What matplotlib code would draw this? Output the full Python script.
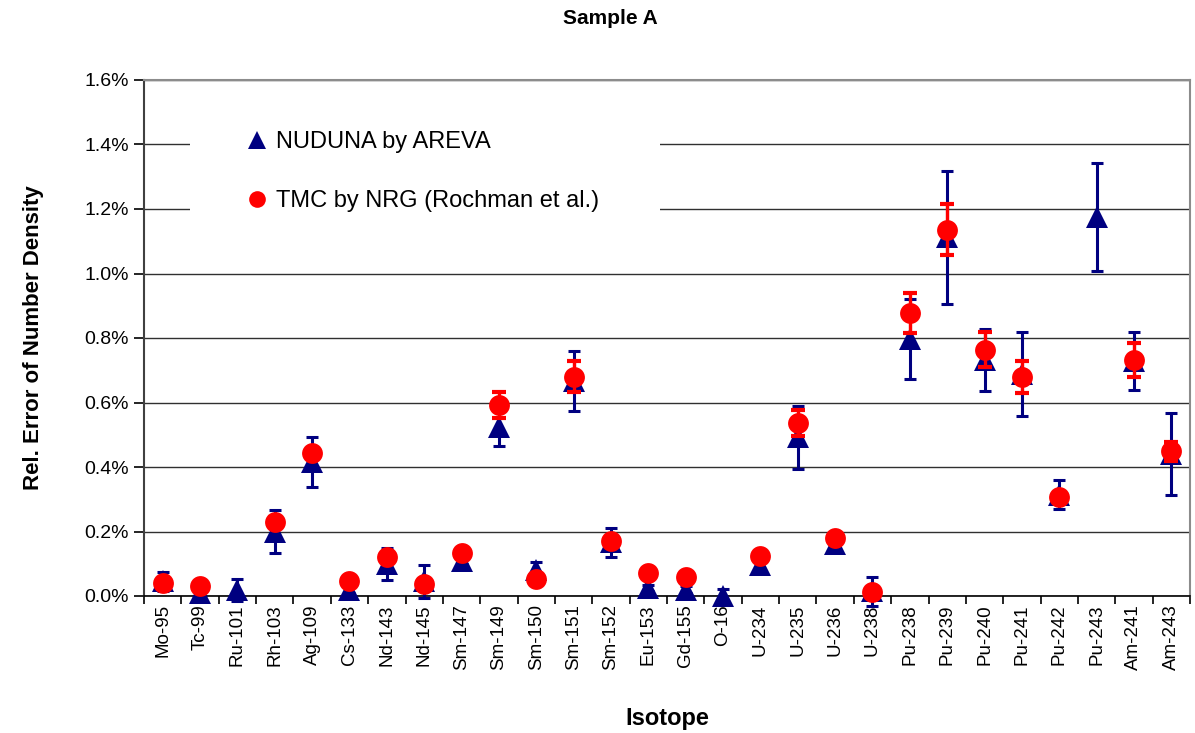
import numpy as np
import matplotlib
matplotlib.use("Agg")
import matplotlib.pyplot as plt
from matplotlib.lines import Line2D
from matplotlib.patches import Rectangle
from matplotlib.ticker import FuncFormatter, FixedLocator

plt.rcParams['font.family'] = ['Liberation Sans', 'DejaVu Sans']

isotopes = ['Mo-95', 'Tc-99', 'Ru-101', 'Rh-103', 'Ag-109', 'Cs-133', 'Nd-143', 'Nd-145',
	'Sm-147', 'Sm-149', 'Sm-150', 'Sm-151', 'Sm-152', 'Eu-153', 'Gd-155', 'O-16',
	'U-234', 'U-235', 'U-236', 'U-238', 'Pu-238', 'Pu-239', 'Pu-240', 'Pu-241',
	'Pu-242', 'Pu-243', 'Am-241', 'Am-243']

# relative error of number density, in %
nuduna = [0.045, 0.010, 0.018, 0.200, 0.415, 0.020, 0.100, 0.045,
	0.110, 0.525, 0.080, 0.668, 0.166, 0.025, 0.020, 0.000,
	0.095, 0.492, 0.160, 0.015, 0.798, 1.112, 0.732, 0.688,
	0.314, 1.176, 0.728, 0.440]
nuduna_err = [0.030, 0.010, 0.035, 0.067, 0.077, 0.010, 0.050, 0.052,
	0.010, 0.060, 0.025, 0.093, 0.044, 0.010, 0.010, 0.022,
	0.010, 0.097, 0.010, 0.045, 0.124, 0.206, 0.096, 0.130,
	0.045, 0.168, 0.090, 0.127]

tmc = [0.040, 0.032, np.nan, 0.230, 0.442, 0.047, 0.122, 0.036,
	0.132, 0.593, 0.053, 0.680, 0.170, 0.070, 0.058, np.nan,
	0.125, 0.537, 0.179, 0.011, 0.877, 1.136, 0.764, 0.680,
	0.306, np.nan, 0.732, 0.449]
tmc_err = [0.005, 0.005, np.nan, 0.015, 0.015, 0.005, 0.010, 0.005,
	0.005, 0.040, 0.005, 0.048, 0.010, 0.005, 0.005, np.nan,
	0.005, 0.040, 0.010, 0.005, 0.062, 0.080, 0.054, 0.049,
	0.010, np.nan, 0.052, 0.030]

navy = '#000080'
red = '#ff0000'

fig = plt.figure(figsize = (11.95, 7.33), dpi = 100)
ax = fig.add_axes([144 / 1195, 1 - 596 / 733, 1046 / 1195, 516 / 733])

x = np.arange(len(isotopes))

def plot_series(vals, errs, marker, color, ms, lw, cap_len, cap_w, z):
	vals = np.array(vals)
	errs = np.array(errs)
	_, _, bars = ax.errorbar(x, vals, yerr = errs, fmt = 'none', ecolor = color,
		elinewidth = lw, capsize = 0, zorder = z)
	for b in bars:
		b.set_clip_on(False)
	for ends in (vals - errs, vals + errs):
		ax.plot(x, ends, ls = 'none', marker = '_', markersize = cap_len,
			markeredgewidth = cap_w, markeredgecolor = color, zorder = z + 0.05,
			clip_on = False)
	ax.plot(x, vals, ls = 'none', marker = marker, markersize = ms, markerfacecolor = color,
		markeredgewidth = 0, zorder = z + 0.1, clip_on = False)

plot_series(nuduna, nuduna_err, '^', navy, 16, 2.2, 8.6, 2.2, 3)
plot_series(tmc, tmc_err, 'o', red, 15, 2.4, 9.6, 3.0, 4)

ax.set_xlim(-0.5, len(isotopes) - 0.5)
ax.set_ylim(0, 1.6)
ax.set_yticks(np.arange(0, 1.61, 0.2))
ax.yaxis.set_major_formatter(FuncFormatter(lambda v, p: "{:.1f}%".format(v)))
ax.set_xticks(x)
ax.set_xticklabels(isotopes, rotation = 90, fontsize = 13.5)
ax.xaxis.set_minor_locator(FixedLocator(np.arange(-0.5, len(isotopes), 1)))
ax.tick_params(axis = 'x', which = 'major', length = 0, pad = 6)
ax.tick_params(axis = 'x', which = 'minor', length = 6, width = 1.2, direction = 'out')
ax.tick_params(axis = 'y', labelsize = 14, length = 7, width = 1.2, direction = 'out', pad = 4)

ax.set_axisbelow(True)
ax.yaxis.grid(True, color = '#303030', linewidth = 1.0)

for side in ['top', 'right']:
	ax.spines[side].set_color('#8c8c8c')
	ax.spines[side].set_linewidth(1.5)
ax.spines['left'].set_color('#404040')
ax.spines['left'].set_linewidth(1.5)
ax.spines['bottom'].set_color('black')
ax.spines['bottom'].set_linewidth(1.2)

ax.set_ylabel("Rel. Error of Number Density", fontsize = 16, fontweight = 'bold')
ax.yaxis.set_label_coords(-(144 - 44) / 1046, 0.5)
ax.set_xlabel("Isotope", fontsize = 17, fontweight = 'bold', va = 'center')
ax.xaxis.set_label_coords(0.5, -(718 - 596) / 516)

fig.text(610 / 1195, 1 - 18 / 733, "Sample A", fontsize = 15, fontweight = 'bold',
	ha = 'center', va = 'center')

# white box behind the legend, hiding the gridlines
ax.add_patch(Rectangle((46 / 1046, (596 - 245) / 516), 470 / 1046, 135 / 516,
	transform = ax.transAxes, facecolor = 'white', edgecolor = 'none', zorder = 1))

handles = [
	Line2D([], [], ls = 'none', marker = '^', color = navy, markersize = 13, markeredgewidth = 0),
	Line2D([], [], ls = 'none', marker = 'o', color = red, markersize = 12, markeredgewidth = 0),
]
ax.legend(handles, ["NUDUNA by AREVA", "TMC by NRG (Rochman et al.)"],
	loc = 'upper left', bbox_to_anchor = ((245 - 144) / 1046, (596 - 131) / 516),
	frameon = False, fontsize = 17, borderpad = 0, borderaxespad = 0,
	handlelength = 1.0, handletextpad = 0.3, labelspacing = 1.57)

fig.savefig("out.png", dpi = 100)
